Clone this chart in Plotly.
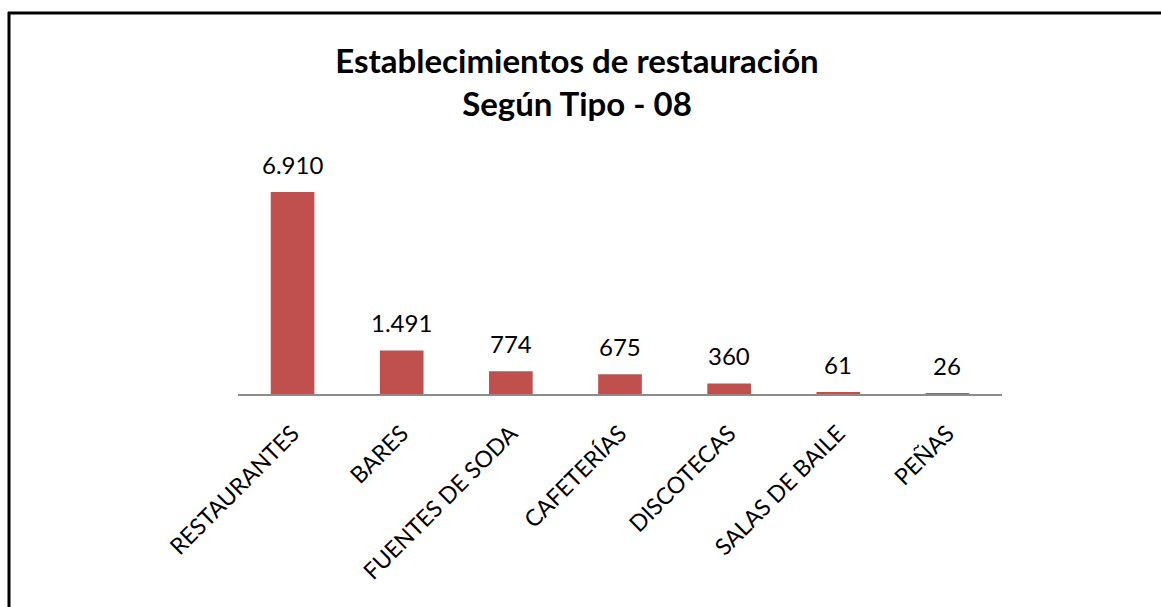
import plotly.graph_objects as go

categories = ["RESTAURANTES", "BARES", "FUENTES DE SODA", "CAFETERÍAS",
              "DISCOTECAS", "SALAS DE BAILE", "PEÑAS"]
values = [6910, 1491, 774, 675, 360, 61, 26]
title_lines = ["Establecimientos de restauración", "Según Tipo - 08"]

BAR_COLOR = "#C0504D"
FONT = "Lato"

fig = go.Figure()
fig.add_trace(go.Bar(x=categories, y=values, marker_color=BAR_COLOR,
                     marker_line_width=0, width=0.4))

for c, v in zip(categories, values):
    fig.add_annotation(x=c, y=v, text=f"{v:,}".replace(",", "."),
                       showarrow=False, yanchor="bottom", yshift=11,
                       font=dict(family=FONT, size=24, color="#000"))

W, H = 1161, 607
L, R, T, B = 238, 159, 160, 213
pw, ph = W - L - R, H - T - B

def px(x):
    return (x - L) / pw

def py(y):
    return (H - B - y) / ph

# outer frame (left and top edges visible)
fig.add_shape(type="line", xref="paper", yref="paper",
              x0=px(9), x1=px(9), y0=py(12), y1=py(620),
              line=dict(color="#000", width=3))
fig.add_shape(type="line", xref="paper", yref="paper",
              x0=px(8), x1=px(1170), y0=py(13), y1=py(13),
              line=dict(color="#000", width=3))

fig.update_layout(
    width=W, height=H,
    margin=dict(l=L, r=R, t=T, b=B),
    paper_bgcolor="white", plot_bgcolor="white",
    showlegend=False,
    title=dict(text="<br>".join(f"<b>{t}</b>" for t in title_lines),
               xref="container", yref="container",
               x=577 / W, xanchor="center", y=1 - 73 / H, yanchor="middle",
               font=dict(family=FONT, size=33, color="#000")),
    xaxis=dict(tickangle=-45, showline=True, linecolor="#8C8C8C", linewidth=2,
               ticks="", tickfont=dict(family=FONT, size=23, color="#000"),
               ticklabelstandoff=15, showgrid=False),
    yaxis=dict(range=[0, 8000], visible=False, showgrid=False),
)

fig.write_html("out.html", config={"displayModeBar": False},
               post_script="document.body.style.margin='0';document.body.style.overflow='hidden';")
